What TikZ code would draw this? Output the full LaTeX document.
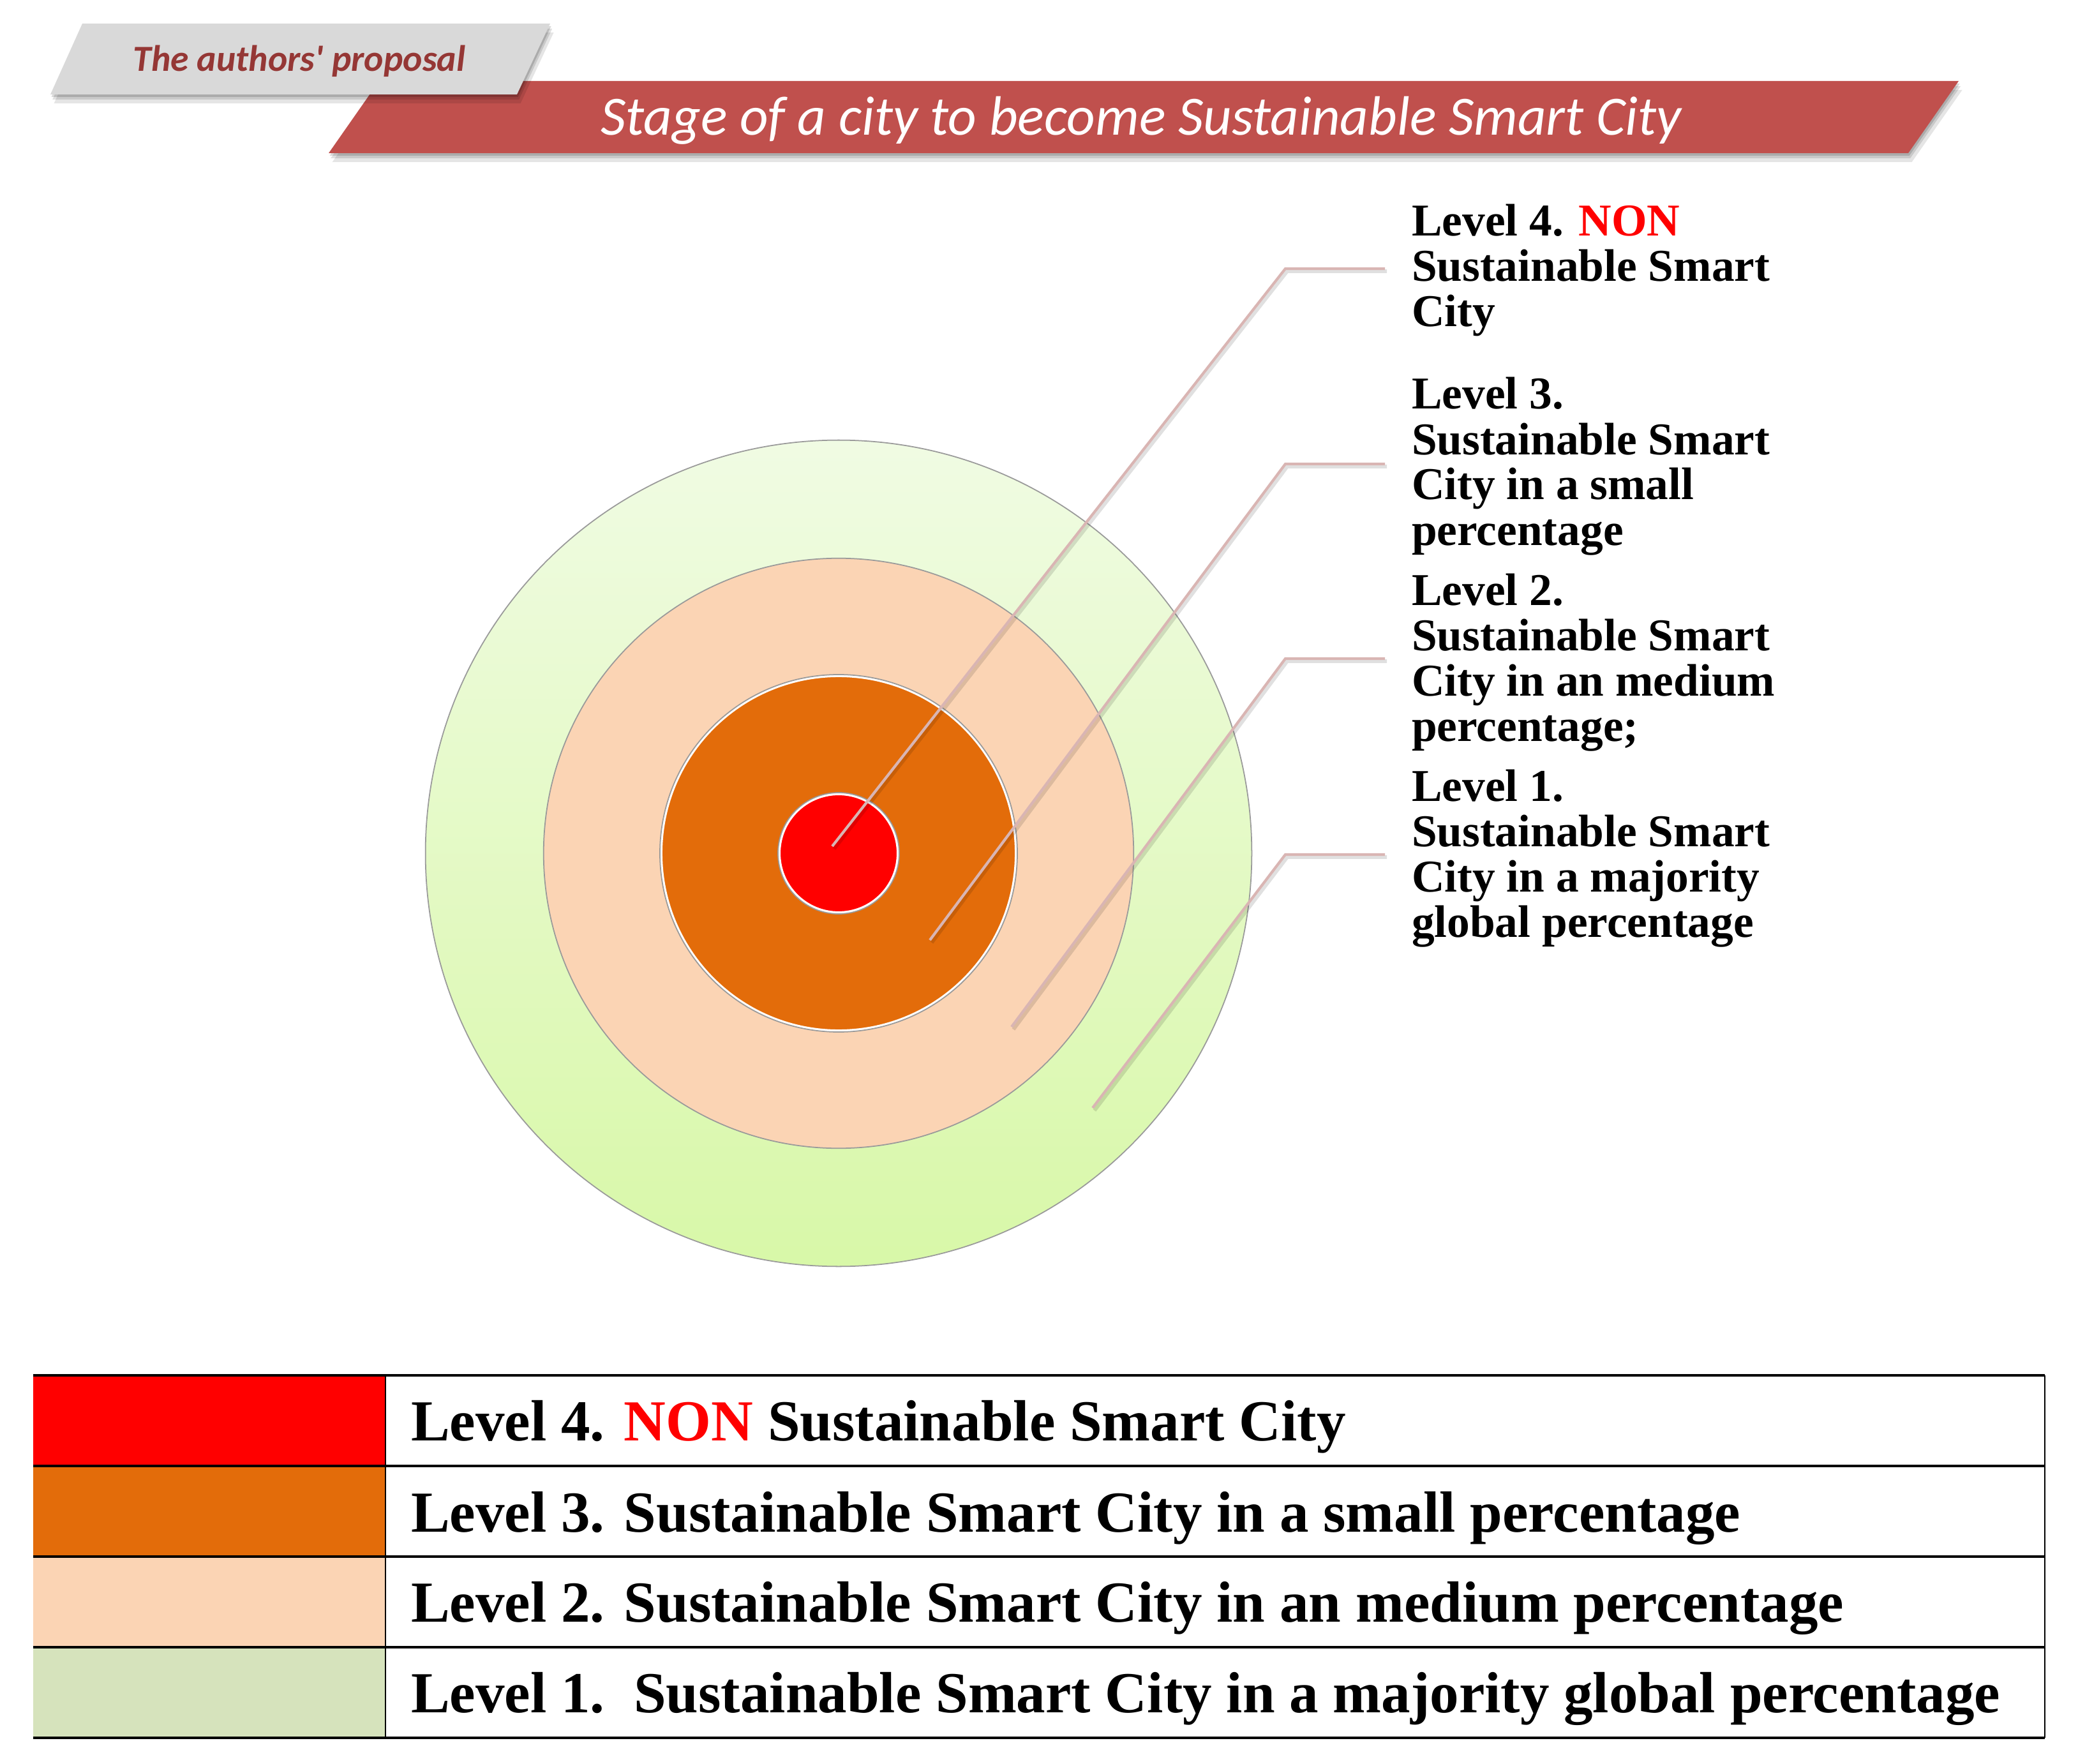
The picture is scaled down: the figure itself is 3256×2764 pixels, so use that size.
\documentclass[tikz,border=0pt]{standalone}
\usepackage{fontspec}
\setmainfont{Liberation Serif}
\newfontfamily\calibfont{Carlito}
\definecolor{bannerred}{HTML}{C0504D}
\definecolor{bannergray}{HTML}{D9D9D9}
\definecolor{darkred}{HTML}{953735}
\definecolor{lvfour}{HTML}{FF0000}
\definecolor{lvthree}{HTML}{E36C0A}
\definecolor{lvtwo}{HTML}{FBD4B4}
\definecolor{lvone}{HTML}{D6E3BC}
\definecolor{greentop}{HTML}{F0FBE3}
\definecolor{greenbot}{HTML}{D8F8A8}
\definecolor{leadercol}{HTML}{D9B5B3}
\definecolor{ringline}{HTML}{9A9A9A}
\newcommand\lblfont{\fontsize{20.3pt}{24pt}\selectfont\bfseries}
\newcommand\rowtxtfont{\fontsize{25.9pt}{30pt}\selectfont\bfseries}
\begin{document}
\begin{tikzpicture}[x=0.01cm,y=-0.01cm,
  ring/.style={draw=ringline,line width=0.5pt},
  leaderline/.style={draw=leadercol,line width=1.2pt},
  leadershadow/.style={draw=black,opacity=0.12,line width=1.6pt},
  lbl/.style={anchor=base west,inner sep=0pt,outer sep=0pt,font=\lblfont},
  rowtxt/.style={anchor=base west,inner sep=0pt,outer sep=0pt,font=\rowtxtfont},
  swatch/.style={anchor=north west,minimum width=5.52cm,minimum height=1.42cm,inner sep=0pt,outer sep=0pt},
  hrule/.style={line width=1.2pt,draw=black},
  vrule/.style={line width=0.6pt,draw=black}
]
\useasboundingbox (0,0) rectangle (3256,2764);
\fill[white] (0,0) rectangle (3256,2764);

% ---- banners ----
\foreach \o/\op in {14/0.10,8/0.12,4/0.15}{
  \fill[black,opacity=\op] (594+\o*0.4,127+\o) -- (3069+\o*0.4,127+\o) -- (2990+\o*0.4,240+\o) -- (515+\o*0.4,240+\o) -- cycle;
}
\fill[bannerred] (594,127) -- (3069,127) -- (2990,240) -- (515,240) -- cycle;
\foreach \o/\op in {14/0.10,8/0.12,4/0.15}{
  \fill[black,opacity=\op] (129+\o*0.4,37+\o) -- (862+\o*0.4,37+\o) -- (810+\o*0.4,148+\o) -- (79+\o*0.4,148+\o) -- cycle;
}
\fill[bannergray] (129,37) -- (862,37) -- (810,148) -- (79,148) -- cycle;
\node[anchor=base west,inner sep=0pt,text=darkred,font=\calibfont\fontsize{16.4pt}{19pt}\selectfont\bfseries\itshape] (proposal) at (208,112) {The authors' proposal};
\node[anchor=base west,inner sep=0pt,text=white,font=\calibfont\fontsize{24.7pt}{29pt}\selectfont\itshape] (title) at (941,212) {Stage of a city to become Sustainable Smart City};

% ---- rings ----
\node[circle,ring,top color=greentop,bottom color=greenbot,minimum size=12.94cm,inner sep=0pt] (ringone) at (1314,1337) {};
\node[circle,ring,fill=lvtwo,minimum size=9.24cm,inner sep=0pt] (ringtwo) at (1314,1337) {};
\node[circle,draw=white,line width=1.2pt,fill=lvthree,minimum size=5.56cm,inner sep=0pt] (ringthree) at (1314,1337) {};
\draw[ring] (ringthree.center) circle[radius=280];
\node[circle,draw=white,line width=1.2pt,fill=lvfour,minimum size=1.86cm,inner sep=0pt] (ringfour) at (1314,1337) {};
\draw[ring] (ringfour.center) circle[radius=95];

% ---- leader anchors ----
\coordinate (sfour) at (1304,1326);
\coordinate (sthree) at (1457,1473);
\coordinate (stwo) at (1585,1609);
\coordinate (sone) at (1712,1736);
\coordinate (bfour) at (2014,421);
\coordinate (bthree) at (2014,727);
\coordinate (btwo) at (2014,1032);
\coordinate (bone) at (2014,1339);
\coordinate (efour) at (2170,421);
\coordinate (ethree) at (2170,727);
\coordinate (etwo) at (2170,1032);
\coordinate (eone) at (2170,1339);
\foreach \a in {four,three,two,one}{
  \draw[leadershadow] ([shift={(3,4)}]s\a) -- ([shift={(3,4)}]b\a) -- ([shift={(3,4)}]e\a);
  \draw[leaderline] (s\a) -- (b\a) -- (e\a);
}

% ---- labels ----
\node[lbl] (lfoura) at (2212,370) {Level 4. \textcolor{lvfour}{NON}};
\node[lbl] (lfourb) at (2212,441) {Sustainable Smart};
\node[lbl] (lfourc) at (2212,512) {City};
\node[lbl] (lthreea) at (2212,641) {Level 3.};
\node[lbl] (lthreeb) at (2212,712) {Sustainable Smart};
\node[lbl] (lthreec) at (2212,783) {City in a small};
\node[lbl] (lthreed) at (2212,854) {percentage};
\node[lbl] (ltwoa) at (2212,948) {Level 2.};
\node[lbl] (ltwob) at (2212,1019) {Sustainable Smart};
\node[lbl] (ltwoc) at (2212,1090) {City in an medium};
\node[lbl] (ltwod) at (2212,1161) {percentage;};
\node[lbl] (lonea) at (2212,1255) {Level 1.};
\node[lbl] (loneb) at (2212,1326) {Sustainable Smart};
\node[lbl] (lonec) at (2212,1397) {City in a majority};
\node[lbl] (loned) at (2212,1468) {global percentage};

% ---- legend table ----
\node[swatch,fill=lvfour] (cfour) at (52,2155) {};
\node[swatch,fill=lvthree] (cthree) at (52,2297) {};
\node[swatch,fill=lvtwo] (ctwo) at (52,2439) {};
\node[swatch,fill=lvone] (cone) at (52,2581) {};
\node[rowtxt] (tfour) at (644,2257) {Level 4. \textcolor{lvfour}{NON} Sustainable Smart City};
\node[rowtxt] (tthree) at (644,2400) {Level 3. Sustainable Smart City in a small percentage};
\node[rowtxt] (ttwo) at (644,2541) {Level 2. Sustainable Smart City in an medium percentage};
\node[rowtxt] (tone) at (644,2683) {Level 1.\ \ Sustainable Smart City in a majority global percentage};
\foreach \yy in {2155,2297,2439,2581,2723}{
  \draw[hrule] (52,\yy) -- (3204,\yy);
}
\draw[vrule] (cfour.north east) -- (cone.south east);
\draw[vrule] (3204,2155) -- (3204,2723);
\end{tikzpicture}
\end{document}
